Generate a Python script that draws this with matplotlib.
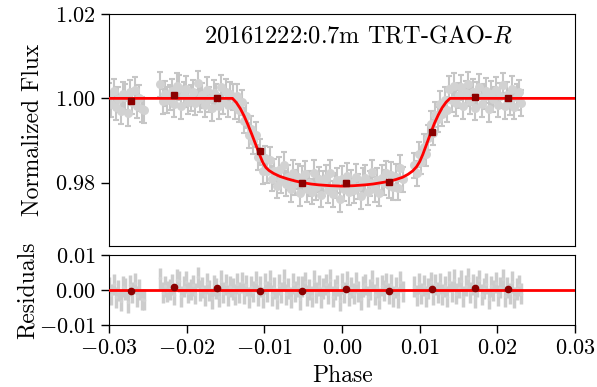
import numpy as np
import matplotlib
matplotlib.use("Agg")
import matplotlib.pyplot as plt
from matplotlib.ticker import FuncFormatter

plt.rcParams["font.family"] = "serif"
plt.rcParams["font.serif"] = ["cmr10"]
plt.rcParams["mathtext.fontset"] = "cm"
plt.rcParams["axes.formatter.use_mathtext"] = True

# observed light curve (three segments)
phase_a = [-0.0300, -0.0297, -0.0294, -0.0291, -0.0288, -0.0285, -0.0282, -0.0279,
           -0.0276, -0.0273, -0.0270, -0.0267, -0.0264, -0.0261, -0.0258, -0.0255]
flux_a = [1.0006, 0.9986, 1.0017, 0.9979, 0.9998, 0.9970, 1.0010, 1.0003,
          0.9965, 1.0014, 0.9992, 1.0020, 0.9983, 1.0001, 0.9974, 0.9972]

phase_b = [-0.0234, -0.0231, -0.0228, -0.0225, -0.0222, -0.0219, -0.0216, -0.0213,
           -0.0210, -0.0207, -0.0204, -0.0201, -0.0198, -0.0195, -0.0192, -0.0189,
           -0.0186, -0.0183, -0.0180, -0.0177, -0.0174, -0.0171, -0.0168, -0.0165,
           -0.0162, -0.0159, -0.0156, -0.0153, -0.0150, -0.0147, -0.0144, -0.0141,
           -0.0138, -0.0135, -0.0132, -0.0129, -0.0126, -0.0123, -0.0120, -0.0117,
           -0.0114, -0.0111, -0.0108, -0.0105, -0.0102, -0.0099, -0.0096, -0.0093,
           -0.0090, -0.0087, -0.0084, -0.0081, -0.0078, -0.0075, -0.0072, -0.0069,
           -0.0066, -0.0063, -0.0060, -0.0057, -0.0054, -0.0051, -0.0048, -0.0045,
           -0.0042, -0.0039, -0.0036, -0.0033, -0.0030, -0.0027, -0.0024, -0.0021,
           -0.0018, -0.0015, -0.0012, -0.0009, -0.0006, -0.0003, 0.0000, 0.0003,
           0.0006, 0.0009, 0.0012, 0.0015, 0.0018, 0.0021, 0.0024, 0.0027,
           0.0030, 0.0033, 0.0036, 0.0039, 0.0042, 0.0045, 0.0048, 0.0051,
           0.0054, 0.0057, 0.0060, 0.0063, 0.0066, 0.0069, 0.0072, 0.0075, 0.0078]
flux_b = [1.0033, 0.9993, 1.0011, 0.9996, 1.0002, 1.0017, 0.9986, 1.0029,
          1.0025, 0.9982, 1.0009, 1.0023, 0.9992, 1.0001, 1.0014, 0.9990,
          1.0036, 0.9998, 1.0007, 0.9985, 1.0020, 0.9998, 0.9977, 1.0013,
          1.0005, 0.9981, 1.0026, 0.9992, 1.0016, 0.9985, 1.0010, 1.0003,
          0.9981, 1.0005, 0.9973, 0.9991, 0.9947, 0.9959, 0.9912, 0.9928,
          0.9899, 0.9914, 0.9860, 0.9873, 0.9827, 0.9858, 0.9829, 0.9855,
          0.9810, 0.9827, 0.9793, 0.9831, 0.9806, 0.9842, 0.9798, 0.9813,
          0.9785, 0.9824, 0.9800, 0.9814, 0.9775, 0.9810, 0.9821, 0.9784,
          0.9799, 0.9779, 0.9823, 0.9789, 0.9808, 0.9772, 0.9799, 0.9811,
          0.9783, 0.9823, 0.9773, 0.9793, 0.9806, 0.9761, 0.9810, 0.9786,
          0.9817, 0.9777, 0.9800, 0.9782, 0.9814, 0.9791, 0.9768, 0.9805,
          0.9811, 0.9777, 0.9799, 0.9825, 0.9784, 0.9806, 0.9775, 0.9812,
          0.9800, 0.9822, 0.9794, 0.9819, 0.9789, 0.9814, 0.9788, 0.9835, 0.9808]

phase_c = [0.0093, 0.0096, 0.0099, 0.0102, 0.0105, 0.0108, 0.0111, 0.0114,
           0.0117, 0.0120, 0.0123, 0.0126, 0.0129, 0.0132, 0.0135, 0.0138,
           0.0141, 0.0144, 0.0147, 0.0150, 0.0153, 0.0156, 0.0159, 0.0162,
           0.0165, 0.0168, 0.0171, 0.0174, 0.0177, 0.0180, 0.0183, 0.0186,
           0.0189, 0.0192, 0.0195, 0.0198, 0.0201, 0.0204, 0.0207, 0.0210,
           0.0213, 0.0216, 0.0219, 0.0222, 0.0225, 0.0228, 0.0231]
flux_c = [0.9841, 0.9822, 0.9867, 0.9850, 0.9885, 0.9869, 0.9907, 0.9939,
          0.9919, 0.9961, 0.9950, 0.9987, 0.9964, 0.9996, 0.9973, 1.0022,
          0.9997, 1.0030, 0.9989, 1.0007, 1.0026, 0.9981, 1.0012, 1.0033,
          0.9994, 1.0015, 0.9978, 1.0009, 1.0028, 0.9987, 1.0004, 1.0018,
          0.9975, 1.0011, 0.9998, 1.0021, 0.9985, 1.0006, 1.0031, 0.9982,
          1.0008, 0.9991, 1.0023, 0.9980, 1.0003, 1.0014, 0.9989]
flux_err = 0.003

# transit model
model_phase = [-0.0300, -0.0141, -0.0136, -0.0131, -0.0126, -0.0121, -0.0116, -0.0111,
               -0.0106, -0.0102, -0.0098, -0.0094, -0.0088, -0.0080, -0.0070, -0.0060,
               -0.0050, -0.0040, -0.0030, -0.0015, 0.0000, 0.0015, 0.0030, 0.0040,
               0.0050, 0.0060, 0.0070, 0.0078, 0.0085, 0.0091, 0.0096, 0.0100,
               0.0104, 0.0109, 0.0114, 0.0119, 0.0124, 0.0129, 0.0134, 0.0139, 0.0300]
model_flux = [1.0000, 1.0000, 0.9990, 0.9976, 0.9958, 0.9937, 0.9914, 0.9890,
              0.9866, 0.9848, 0.9836, 0.9829, 0.9822, 0.9815, 0.9809, 0.9804,
              0.9800, 0.9797, 0.9795, 0.9793, 0.9792, 0.9793, 0.9795, 0.9797,
              0.9800, 0.9803, 0.9808, 0.9813, 0.9820, 0.9828, 0.9838, 0.9850,
              0.9867, 0.9892, 0.9917, 0.9941, 0.9961, 0.9978, 0.9991, 1.0000, 1.0000]

# binned points
bin_phase = [-0.0272, -0.0216, -0.0161, -0.0106, -0.0051, 0.0005, 0.0060, 0.0116, 0.0171, 0.0214]
bin_flux = [0.9994, 1.0007, 1.0002, 0.9875, 0.9800, 0.9799, 0.9802, 0.9920, 1.0003, 1.0000]
bin_resid = [-0.0003, 0.0009, 0.0005, -0.0002, -0.0003, 0.0003, -0.0002, 0.0002, 0.0005, 0.0002]
bin_err = 0.0004

phase = np.array(phase_a + phase_b + phase_c)
flux = np.array(flux_a + flux_b + flux_c)
resid = flux - np.interp(phase, model_phase, model_flux)

fig = plt.figure(figsize=(5.97, 3.87), dpi=100)
ax = fig.add_axes([0.1826, 0.3643, 0.7806, 0.5995])
axr = fig.add_axes([0.1826, 0.160, 0.7806, 0.181])

ax.errorbar(phase, flux, yerr=flux_err, fmt="o", ms=6.5, mfc="#d2d2d2", mec="none",
            ecolor="#c6c6c6", elinewidth=1.5, capsize=2.5, capthick=1.5, zorder=1)
ax.plot(model_phase, model_flux, color="red", lw=2, zorder=3)
ax.errorbar(bin_phase, bin_flux, yerr=bin_err, fmt="s", ms=4.5, color="darkred",
            elinewidth=1.5, capsize=2.5, capthick=1.5, zorder=4)

axr.errorbar(phase, resid, yerr=flux_err, fmt="o", ms=2.5, mfc="#d2d2d2", mec="none",
             ecolor="#cccccc", elinewidth=2.5, capsize=0, zorder=1)
axr.axhline(0, color="red", lw=2, zorder=3)
axr.errorbar(bin_phase, bin_resid, yerr=bin_err, fmt="o", ms=4.5, color="darkred",
             elinewidth=1.5, capsize=0, zorder=4)

fmt = FuncFormatter(lambda v, p: ("$%.2f$" % v).replace("-0.00", "0.00"))

ax.set_xlim(-0.03, 0.03)
ax.set_ylim(0.965, 1.02)
ax.set_yticks([0.98, 1.00, 1.02])
ax.yaxis.set_major_formatter(fmt)
ax.set_xticks([])
ax.set_ylabel("Normalized Flux", fontsize=17, labelpad=8)
ax.text(0.535, 0.905, "20161222:0.7m TRT-GAO-$R$", transform=ax.transAxes,
        ha="center", va="center", fontsize=17.5)

axr.set_xlim(-0.03, 0.03)
axr.set_ylim(-0.01, 0.01)
axr.set_yticks([-0.01, 0.00, 0.01])
axr.set_xticks([-0.03, -0.02, -0.01, 0.00, 0.01, 0.02, 0.03])
axr.xaxis.set_major_formatter(fmt)
axr.yaxis.set_major_formatter(fmt)
axr.set_xlabel("Phase", fontsize=17, labelpad=5)
axr.set_ylabel("Residuals", fontsize=17, labelpad=0)

for a in (ax, axr):
    a.tick_params(direction="out", labelsize=16, length=6, width=1,
                  top=False, right=False)

fig.savefig("out.png", dpi=100)
